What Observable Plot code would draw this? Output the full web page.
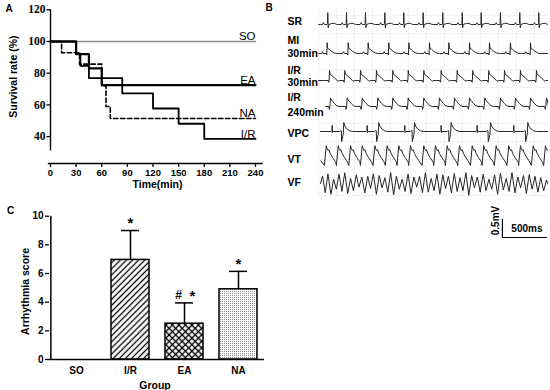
<!DOCTYPE html>
<html><head><meta charset="utf-8">
<script src="https://cdn.jsdelivr.net/npm/d3@7"></script>
<script src="https://cdn.jsdelivr.net/npm/@observablehq/plot@0.6"></script>
<style>
body{margin:0;background:#fff;}
#fig{position:relative;width:550px;height:390px;overflow:hidden;background:#fff;}
</style></head><body>
<svg width="0" height="0" style="position:absolute"><defs>
<pattern id="hatch" patternUnits="userSpaceOnUse" width="4.3" height="4.3" patternTransform="rotate(45)"><rect width="4.3" height="4.3" fill="#fff"/><line x1="2.15" y1="0" x2="2.15" y2="4.3" stroke="#000" stroke-width="1.3"/></pattern>
<pattern id="cross" patternUnits="userSpaceOnUse" width="4.6" height="4.6" patternTransform="rotate(45)"><rect width="4.6" height="4.6" fill="#fff"/><path d="M2.3 0V4.6M0 2.3H4.6" stroke="#000" stroke-width="1.3"/></pattern>
<pattern id="dots" patternUnits="userSpaceOnUse" width="2" height="2"><rect width="2" height="2" fill="#fff"/><rect width="1" height="1" fill="#8a8a8a"/></pattern>
</defs></svg>
<div id="fig"></div>
<script>
// ---------- Panel A data: survival ----------
const timeTicks = [0,30,60,90,120,150,180,210,240];
const rateTicks = [40,60,80,100,120];
const survNames = ["SO","EA","NA","I/R"];
const soTime = [0,240],                          soRate = [100,100];
const eaTime = [0,30,45,60,240],                 eaRate = [100,92,83,72.5,72.5];
const naTime = [0,13,34,60,65,70,240],           naRate = [100,92.9,85.7,72,59,51.4,51.4];
const irTime = [0,30,35,45,84,120,150,180,240],  irRate = [100,92.3,84.6,76.9,67.3,57.7,48.1,38.5,38.5];

// ---------- Panel B data: ECG (ms, mV) ----------
const srBeats   = [103,311,522,737,948,1163,1381,1597,1808,2022,2237,2448];
const srBeat    = [[-100,0],[-58,0],[-48,0.05],[-36,0],[-8,0],[-3,0.03],[0,0.33],[5,-0.09],[12,0],[45,0.03],[75,0.03],[100,0]];
const miBeats   = [96,330,552,781,1004,1233,1448,1678,1900,2133,2356];
const miBeat    = [[-100,0],[-62,0],[-52,0.05],[-42,0],[-10,0],[-4,-0.04],[0,0.3],[6,0.14],[22,0.12],[48,0.06],[80,0.01],[110,0]];
const ir30Beats = [122,292,467,644,826,997,1170,1363,1541,1714,1892,2067,2244,2422];
const ir30Beat  = [[-55,0],[-14,0],[-8,-0.05],[-3,0.04],[0,0.28],[8,0.17],[30,0.13],[60,0.06],[85,0],[100,-0.02],[105,0]];
const ir240Beats= [133,319,486,659,826,997,1170,1344,1511,1678,1848,2022,2189,2356,2533];
const ir240Beat = [[-50,0],[-20,0],[-12,-0.08],[-5,0.04],[0,0.24],[10,0.18],[25,0.14],[45,0.08],[70,0.02],[95,0]];
const vpcNormal = [152,541,959,1363,1763,2170];
const vpcEctopic= [281,670,1067,1474,1911,2326];
const normalBeat= [[-10,0],[-3,0.02],[0,0.17],[4,-0.03],[10,0]];
const ectopicBeat=[[-45,0],[-35,0.03],[-28,0.02],[-24,-0.28],[-6,-0.08],[0,0.25],[12,0.15],[35,0.07],[65,0.02],[100,0]];
const vtPeaks   = [86,219,356,486,626,763,892,1022,1170,1300,1430,1567,1708,1837,1974,2114,2244,2386,2522];
const vtWave    = [[-20,-0.25],[0,0.3],[10,0.21],[20,0.17],[30,0.19],[45,0.08],[70,-0.03],[95,-0.12],[105,-0.16]];
const vfPoints  = [[22,0],[45,0.2],[75,-0.26],[105,0.27],[138,-0.3],[168,0.12],[198,-0.16],[228,0.26],[260,-0.22],[292,0.3],[325,-0.28],[356,0.14],[388,-0.2],[420,0.24],[450,-0.1],[482,0.18],[515,-0.26],[547,0.2],[578,-0.14],[610,0.27],[643,-0.3],[675,0.22],[706,-0.12],[738,0.16],[770,-0.24],[802,0.3],[835,-0.32],[866,0.2],[898,-0.16],[930,0.12],[962,-0.22],[995,0.26],[1028,-0.28],[1060,0.18],[1091,-0.1],[1123,0.2],[1155,-0.25],[1188,0.3],[1220,-0.24],[1252,0.14],[1284,-0.2],[1316,0.26],[1349,-0.3],[1381,0.24],[1412,-0.14],[1444,0.2],[1477,-0.26],[1509,0.28],[1541,-0.22],[1573,0.16],[1605,-0.2],[1638,0.3],[1670,-0.33],[1702,0.22],[1733,-0.12],[1765,0.18],[1797,-0.24],[1830,0.26],[1862,-0.2],[1894,0.12],[1925,-0.16],[1957,0.24],[1990,-0.3],[2022,0.28],[2054,-0.18],[2086,0.14],[2118,-0.22],[2150,0.3],[2183,-0.26],[2215,0.18],[2246,-0.12],[2278,0.22],[2310,-0.28],[2342,0.25],[2374,-0.16],[2406,0.2],[2438,-0.24],[2470,0.16],[2502,-0.2],[2534,0.1],[2556,-0.05]];
const traceLabels = [["SR"],["MI","30min"],["I/R","30min"],["I/R","240min"],["VPC"],["VT"],["VF"]];
const scaleBarMs = 500, scaleBarMv = 0.5;

// ---------- Panel C data: arrhythmia score ----------
const groupsC   = ["SO","I/R","EA","NA"];
const scoreMean = [0,6.95,2.5,4.9];
const scoreSD   = [0,2.05,1.45,1.25];
const sigStar   = ["","*","*","*"];
const sigHash   = ["","","#",""];
const scoreTicks= [0,2,4,6,8,10];

// ---------- layout / style ----------
const SANS = "Liberation Sans, Arial, sans-serif";
const SERIF = "Liberation Serif, Times New Roman, serif";
const survStyle = {SO:{stroke:"#8c8c8c",w:1.6,dash:null}, EA:{stroke:"#000",w:2.2,dash:null}, NA:{stroke:"#000",w:1.6,dash:"4.5,2.5"}, "I/R":{stroke:"#000",w:1.8,dash:null}};
const PX_PER_MV = 36;
const rowBaselinePx = [24,53,80,106,131,156,183];
const labelLinePx = [[21],[40,53],[70,81.7],[96.7,112],[133],[159],[182]];
const barFill = {"I/R":"url(#hatch)","EA":"url(#cross)","NA":"url(#dots)"};

const fig = document.getElementById("fig");

// ===== Panel A =====
const survRows = [];
[["SO",soTime,soRate],["EA",eaTime,eaRate],["NA",naTime,naRate],["I/R",irTime,irRate]]
  .forEach(([n,T,R]) => T.forEach((t,i) => survRows.push({name:n,time:t,rate:R[i]})));
const survEnds = survNames.map(n => { const r = survRows.filter(d => d.name === n); return r[r.length-1]; });

const plotA = Plot.plot({
  width:275, height:195, marginLeft:50, marginRight:20, marginTop:9.3, marginBottom:32,
  x:{domain:[0,240]}, y:{domain:[23,120]},
  style:{fontFamily:SANS, background:"transparent", overflow:"visible", position:"absolute", left:"0px", top:"0px"},
  marks:[
    Plot.ruleX([0],{y1:31,y2:120,strokeWidth:1.4}),
    Plot.ruleY([23],{x1:-2.5,x2:249,strokeWidth:1.4}),
    Plot.axisY({ticks:rateTicks, tickSize:3.5, tickPadding:1.5, label:null, fontFamily:SERIF, fontWeight:"bold", fontSize:11.5, strokeWidth:1.3}),
    Plot.axisX({ticks:timeTicks, tickSize:4, tickPadding:2, label:null, fontFamily:SANS, fontWeight:"bold", fontSize:9.5, strokeWidth:1.3}),
    ...survNames.map(n => Plot.line(survRows.filter(d => d.name === n), {x:"time", y:"rate", curve:"step-after", stroke:survStyle[n].stroke, strokeWidth:survStyle[n].w, strokeDasharray:survStyle[n].dash})),
    Plot.text(survEnds, {x:"time", y:"rate", text:"name", textAnchor:"end", lineAnchor:"middle", dy:-5, fontSize:11.5}),
    Plot.text(["Survival rate (%)"], {frameAnchor:"left", textAnchor:"middle", lineAnchor:"middle", rotate:-90, dx:-36.5, dy:-10, fontWeight:"bold", fontSize:10.5}),
    Plot.text(["Time(min)"], {frameAnchor:"bottom", textAnchor:"middle", lineAnchor:"middle", dx:4.5, dy:21, fontWeight:"bold", fontSize:10.5}),
    Plot.text(["A"], {frameAnchor:"top-left", textAnchor:"middle", lineAnchor:"middle", dx:-41.5, dy:-1, fontWeight:"bold", fontSize:10}),
    Plot.text(["B"], {frameAnchor:"top-right", textAnchor:"middle", lineAnchor:"middle", dx:13.5, dy:-2.3, fontWeight:"bold", fontSize:10})
  ]
});
fig.appendChild(plotA);

// ===== Panel B =====
function beatTrace(beats, template, start, end) {
  const pts = [[start,0]];
  for (const b of beats) for (const [t,v] of template) pts.push([b+t, v]);
  pts.push([end,0]);
  return pts.sort((a,b) => a[0]-b[0]);
}
const vpcPts = [[20,0]];
vpcNormal.forEach(b => normalBeat.forEach(([t,v]) => vpcPts.push([b+t,v])));
vpcEctopic.forEach(b => ectopicBeat.forEach(([t,v]) => vpcPts.push([b+t,v])));
vpcPts.push([2556,0]); vpcPts.sort((a,b) => a[0]-b[0]);
const vtPts = [[25,-0.12]];
vtPeaks.forEach(b => vtWave.forEach(([t,v]) => vtPts.push([b+t,v])));
const traces = [
  beatTrace(srBeats, srBeat, 22, 2556),
  beatTrace(miBeats, miBeat, 0, 2556),
  beatTrace(ir30Beats, ir30Beat, 0, 2556),
  beatTrace(ir240Beats, ir240Beat, 78, 2556),
  vpcPts, vtPts, vfPoints
];
const ecgRows = [];
traces.forEach((pts, r) => pts.forEach(([t,v]) => ecgRows.push({row:r, t, v: v - rowBaselinePx[r]/PX_PER_MV})));

const sbT = 2044, sbY = -237/PX_PER_MV;
const labelMarks = [];
traceLabels.forEach((lines, r) => lines.forEach((s, k) => {
  labelMarks.push(Plot.text([s], {frameAnchor:"top-left", textAnchor:"start", lineAnchor:"middle", dx:-31, dy:labelLinePx[r][k], fontWeight:"bold", fontSize:10.5}));
}));

const plotB = Plot.plot({
  width:275, height:250, marginLeft:43, marginRight:2, marginTop:0, marginBottom:0,
  x:{domain:[0,2556], axis:null}, y:{domain:[-250/PX_PER_MV,0], axis:null},
  style:{fontFamily:SANS, background:"transparent", overflow:"visible", position:"absolute", left:"275px", top:"0px"},
  marks:[
    Plot.ruleX(d3.range(0,2556,200), {y1:-195/PX_PER_MV, y2:-8/PX_PER_MV, stroke:"#efefef", strokeWidth:0.8}),
    Plot.ruleY(d3.range(-195/PX_PER_MV, -8/PX_PER_MV, 0.5), {x1:0, x2:2556, stroke:"#efefef", strokeWidth:0.8}),
    Plot.line(ecgRows, {x:"t", y:"v", z:"row", stroke:"#262626", strokeWidth:1, clip:true}),
    Plot.ruleX([sbT], {y1:sbY, y2:sbY+scaleBarMv, strokeWidth:1.2}),
    Plot.ruleY([sbY], {x1:sbT, x2:sbT+scaleBarMs, strokeWidth:1.2}),
    Plot.text([scaleBarMv+"mV"], {x:sbT, y:sbY+scaleBarMv/2, dx:-7, dy:-8, rotate:-90, textAnchor:"middle", lineAnchor:"middle", fontWeight:"bold", fontSize:10}),
    Plot.text([scaleBarMs+"ms"], {x:sbT+scaleBarMs/2, y:sbY, dx:2, dy:-9, textAnchor:"middle", lineAnchor:"middle", fontWeight:"bold", fontSize:10}),
    ...labelMarks
  ]
});
fig.appendChild(plotB);

// ===== Panel C =====
const rowsC = groupsC.map((g,i) => ({group:g, mean:scoreMean[i], top:scoreMean[i]+scoreSD[i], star:sigStar[i], hash:sigHash[i]}));
const barsC = rowsC.filter(d => d.mean > 0);
const plotC = Plot.plot({
  width:275, height:195, marginLeft:49, marginRight:11, marginTop:20.7, marginBottom:31,
  x:{domain:groupsC, paddingInner:0.3, paddingOuter:0.12}, y:{domain:[0,10]},
  color:{type:"identity"},
  style:{fontFamily:SANS, background:"transparent", overflow:"visible", position:"absolute", left:"0px", top:"195px"},
  marks:[
    Plot.barY(barsC, {x:"group", y:"mean", fill:d => barFill[d.group], stroke:"#000", strokeWidth:1.5}),
    Plot.ruleX(barsC, {x:"group", y1:"mean", y2:"top", strokeWidth:1.5}),
    Plot.tickY(barsC, {x:"group", y:"top", insetLeft:10, insetRight:10, strokeWidth:1.5}),
    Plot.ruleY([0], {strokeWidth:1.5}),
    Plot.ruleX([groupsC[0]], {y1:0, y2:10, dx:-25.65, strokeWidth:1.5}),
    Plot.axisY({ticks:scoreTicks, tickSize:4, tickPadding:2, label:null, fontWeight:"bold", fontSize:10, strokeWidth:1.3}),
    Plot.axisX({tickSize:0, tickPadding:7, label:null, fontWeight:"bold", fontSize:10}),
    Plot.text(barsC.filter(d => !d.hash), {x:"group", y:"top", text:"star", dy:-7, lineAnchor:"middle", fontSize:15, fontWeight:"bold"}),
    Plot.text(barsC.filter(d => d.hash), {x:"group", y:"top", text:"star", dx:8, dy:-7, lineAnchor:"middle", fontSize:15, fontWeight:"bold"}),
    Plot.text(barsC.filter(d => d.hash), {x:"group", y:"top", text:"hash", dx:-6, dy:-8, lineAnchor:"middle", fontSize:12, fontWeight:"bold"}),
    Plot.text(["Arrhythmia score"], {frameAnchor:"left", textAnchor:"middle", lineAnchor:"middle", rotate:-90, dx:-24, dy:3.6, fontWeight:"bold", fontSize:10.5}),
    Plot.text(["Group"], {frameAnchor:"bottom", textAnchor:"middle", lineAnchor:"middle", dx:-2, dy:26, fontWeight:"bold", fontSize:10.5}),
    Plot.text(["C"], {frameAnchor:"top-left", textAnchor:"middle", lineAnchor:"middle", dx:-39, dy:-5.7, fontWeight:"bold", fontSize:10})
  ]
});
fig.appendChild(plotC);
</script>
</body></html>
